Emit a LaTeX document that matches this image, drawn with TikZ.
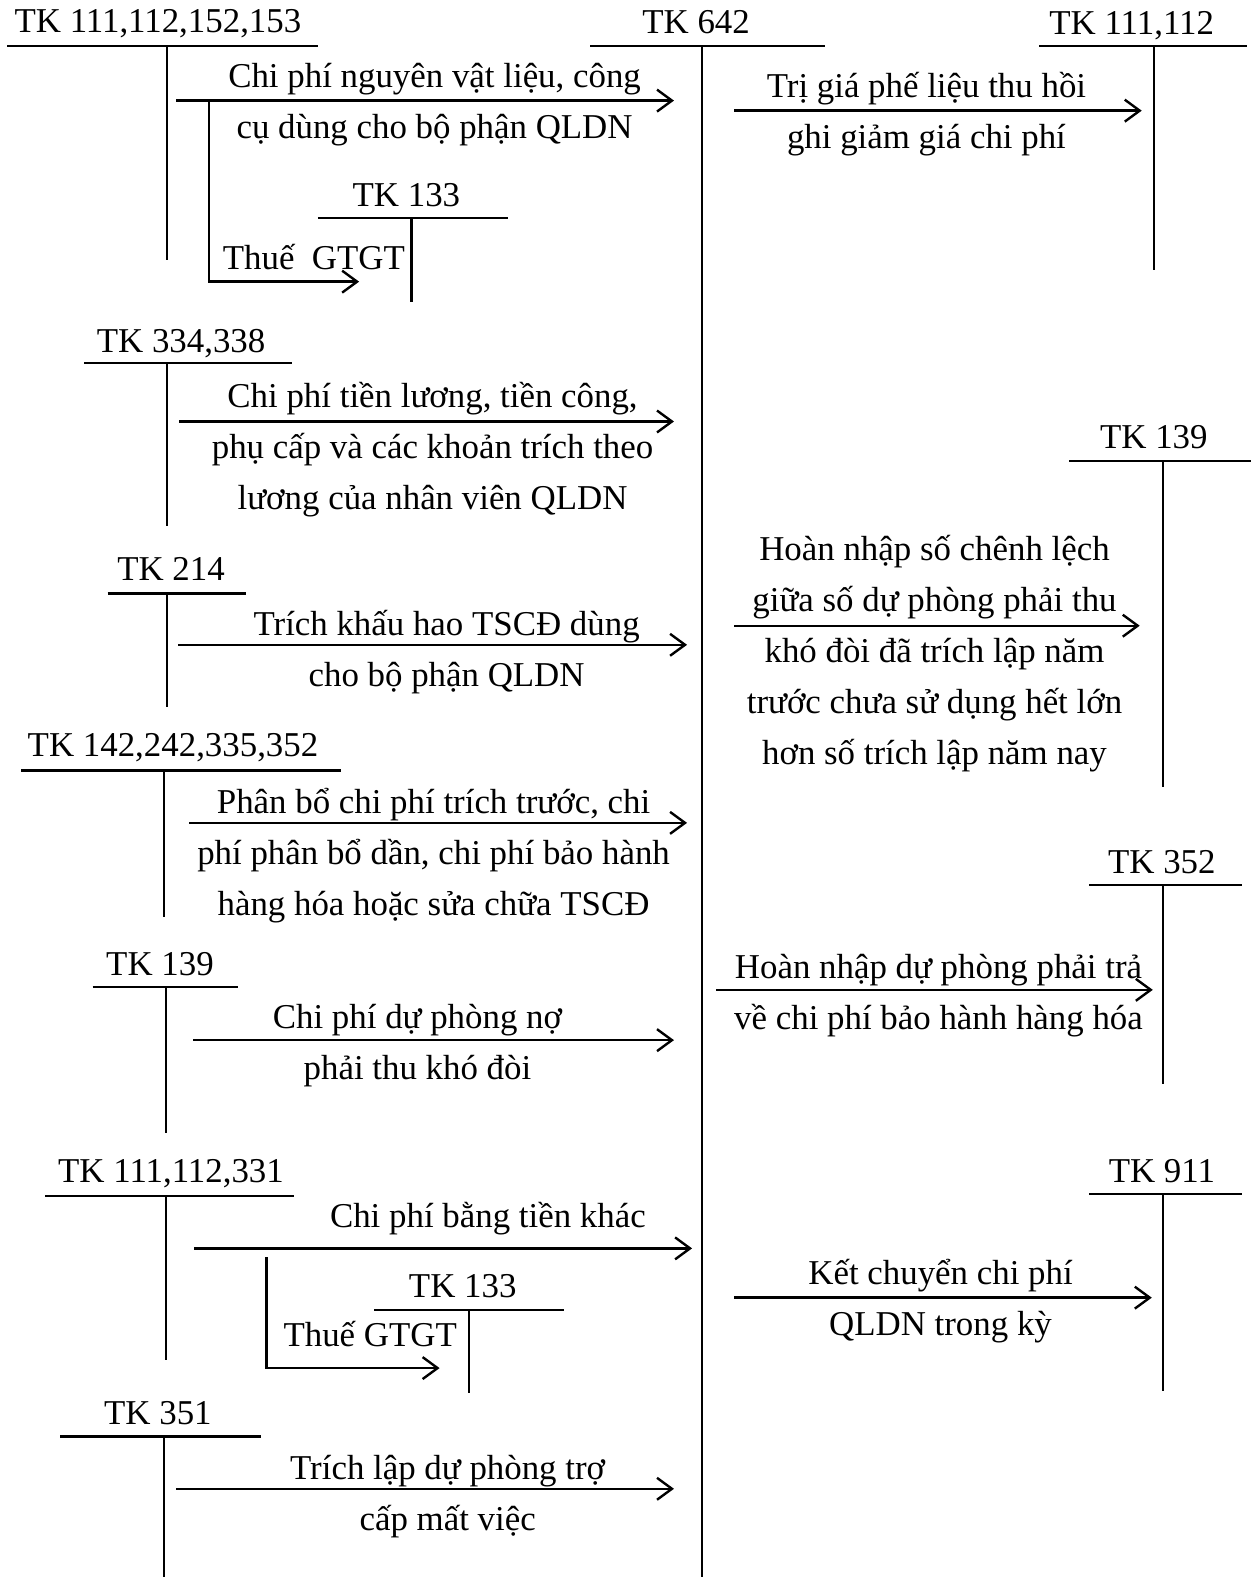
\documentclass[tikz,border=0pt]{standalone}
\usepackage{fontspec}
\setmainfont{Liberation Serif}
\usetikzlibrary{arrows.meta}

\begin{document}
\begin{tikzpicture}[x=0.503bp, y=-0.503bp,
  acct/.style={font=\fontsize{17.5}{25.6}\selectfont, inner sep=0pt, anchor=base},
  txt/.style={font=\fontsize{17.5}{25.6}\selectfont, inner sep=0pt, anchor=base, align=center},
  tline/.style={line width=1.1pt},
  flow/.style={line width=1.2pt, -{Straight Barb[length=7.5pt, width=11pt]}}
]
\useasboundingbox (0,0) rectangle (1249.5,1567.7);

% TK 642
\node[acct] (t642) at (692,33) {TK 642};
\draw[tline] (587,46) -- (820,46) (698,46) -- (698,1568);

% left accounts
\node[acct] (t111a) at (157,32) {TK 111,112,152,153};
\draw[tline] (7,46) -- (316,46) (166,46) -- (166,258);
\node[acct] (t133a) at (404,205) {TK 133};
\draw[tline] (316,217) -- (505,217) (409,217) -- (409,300);

\node[acct] (t334) at (180,350) {TK 334,338};
\draw[tline] (84,361) -- (290,361) (166,361) -- (166,523);

\node[acct] (t214) at (170,577) {TK 214};
\draw[tline] (107,590) -- (245,590) (166,590) -- (166,703);

\node[acct] (t142) at (172,752) {TK 142,242,335,352};
\draw[tline] (21,766) -- (339,766) (163,766) -- (163,912);

\node[acct] (t139a) at (159,970) {TK 139};
\draw[tline] (92,981) -- (237,981) (165,981) -- (165,1126);

\node[acct] (t111c) at (170,1176) {TK 111,112,331};
\draw[tline] (45,1189) -- (292,1189) (165,1189) -- (165,1352);
\node[acct] (t133b) at (460,1290) {TK 133};
\draw[tline] (372,1302) -- (561,1302) (466,1302) -- (466,1385);

\node[acct] (t351) at (157,1416) {TK 351};
\draw[tline] (60,1428) -- (259,1428) (163,1428) -- (163,1568);

% right accounts
\node[acct] (t111b) at (1125,34) {TK 111,112};
\draw[tline] (1033,46) -- (1240,46) (1147,46) -- (1147,268);

\node[acct] (t139b) at (1147,446) {TK 139};
\draw[tline] (1063,458) -- (1244,458) (1156,458) -- (1156,782);

\node[acct] (t352) at (1155,868) {TK 352};
\draw[tline] (1083,880) -- (1235,880) (1156,880) -- (1156,1078);

\node[acct] (t911) at (1155,1176) {TK 911};
\draw[tline] (1083,1187) -- (1235,1187) (1156,1187) -- (1156,1383);

% flows into TK 642
\coordinate (f1s) at (175,100);  \coordinate (f1e) at (670,100);
\coordinate (v1s) at (208,100);  \coordinate (v1c) at (208,280);  \coordinate (v1e) at (357,280);
\coordinate (f2s) at (178,419);  \coordinate (f2e) at (670,419);
\coordinate (f3s) at (177,641);  \coordinate (f3e) at (683,641);
\coordinate (f4s) at (188,818);  \coordinate (f4e) at (683,818);
\coordinate (f5s) at (192,1034); \coordinate (f5e) at (670,1034);
\coordinate (f6s) at (193,1241); \coordinate (f6e) at (688,1241);
\coordinate (v6s) at (265,1250); \coordinate (v6c) at (265,1360); \coordinate (v6e) at (437,1360);
\coordinate (f7s) at (175,1480); \coordinate (f7e) at (670,1480);

\draw[flow] (f1s) -- (f1e);
\draw[flow] (v1s) -- (v1c) -- (v1e);
\draw[flow] (f2s) -- (f2e);
\draw[flow] (f3s) -- (f3e);
\draw[flow] (f4s) -- (f4e);
\draw[flow] (f5s) -- (f5e);
\draw[flow] (f6s) -- (f6e);
\draw[flow] (v6s) -- (v6c) -- (v6e);
\draw[flow] (f7s) -- (f7e);

% flows out of TK 642
\coordinate (g1s) at (730,110);  \coordinate (g1e) at (1135,110);
\coordinate (g2s) at (730,622);  \coordinate (g2e) at (1133,622);
\coordinate (g3s) at (712,984);  \coordinate (g3e) at (1146,984);
\coordinate (g4s) at (730,1290); \coordinate (g4e) at (1145,1290);

\draw[flow] (g1s) -- (g1e);
\draw[flow] (g2s) -- (g2e);
\draw[flow] (g3s) -- (g3e);
\draw[flow] (g4s) -- (g4e);

% texts (base = last line)
\node[txt] (n1) at (432,138) {Chi phí nguyên vật liệu, công\\cụ dùng cho bộ phận QLDN};
\node[txt] (n1t) at (312,268) {Thuế\ \ GTGT};
\node[txt] (n2) at (430,506) {Chi phí tiền lương, tiền công,\\phụ cấp và các khoản trích theo\\lương của nhân viên QLDN};
\node[txt] (n3) at (444,682) {Trích khấu hao TSCĐ dùng\\cho bộ phận QLDN};
\node[txt] (n4) at (431,910) {Phân bổ chi phí trích trước, chi\\phí phân bổ dần, chi phí bảo hành\\hàng hóa hoặc sửa chữa TSCĐ};
\node[txt] (n5) at (415,1073) {Chi phí dự phòng nợ\\phải thu khó đòi};
\node[txt] (n6) at (485,1220) {Chi phí bằng tiền khác};
\node[txt] (n6t) at (368,1339) {Thuế GTGT};
\node[txt] (n7) at (445,1521) {Trích lập dự phòng trợ\\cấp mất việc};

\node[txt] (m1) at (921,148) {Trị giá phế liệu thu hồi\\ghi giảm giá chi phí};
\node[txt] (m2) at (929,760) {Hoàn nhập số chênh lệch\\giữa số dự phòng phải thu\\khó đòi đã trích lập năm\\trước chưa sử dụng hết lớn\\hơn số trích lập năm nay};
\node[txt] (m3) at (933,1023) {Hoàn nhập dự phòng phải trả\\về chi phí bảo hành hàng hóa};
\node[txt] (m4) at (935,1328) {Kết chuyển chi phí\\QLDN trong kỳ};
\end{tikzpicture}
\end{document}
